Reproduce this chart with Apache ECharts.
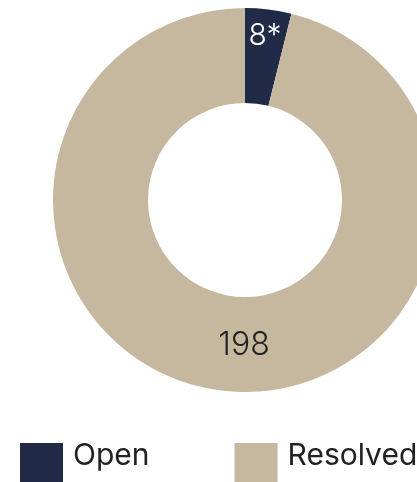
<!DOCTYPE html>
<html><head><meta charset="utf-8">
<script src="https://cdn.jsdelivr.net/npm/echarts@6/dist/echarts.min.js"></script>
<style>html,body{margin:0;padding:0;background:#fff}#c{width:417px;height:482px}</style>
</head><body><div id="c"></div>
<script>
const categories = ["Open", "Resolved"];
const values = [8, 198];
const labels = ["8*", "198"];
const colors = ["#212a47", "#c6b89f"];
const labelColors = ["#ffffff", "#222222"];
const labelOffsets = [[2, -18], [17, -1]];
const labelSizes = [30, 32];

const chart = echarts.init(document.getElementById('c'));
chart.setOption({
  animation: false,
  legend: {
    left: 20, top: 428, width: 800, padding: 0,
    icon: 'path://M0,0L0.001,0L0.001,0.001ZM0,15L43,15L43,55L0,55Z',
    itemWidth: 43, itemHeight: 55, itemGap: 85,
    textStyle: { fontFamily: 'Inter', fontSize: 30, color: '#222', padding: [0, 0, 0, 5] },
    data: categories
  },
  series: [{
    type: 'pie',
    center: [245, 200], radius: [97, 192],
    startAngle: 90, clockwise: true,
    avoidLabelOverlap: false,
    label: { show: true, position: 'inside', fontFamily: 'Inter', fontWeight: 300 },
    labelLine: { show: false },
    emphasis: { disabled: true },
    data: categories.map((n, i) => ({
      name: n, value: values[i],
      itemStyle: { color: colors[i] },
      label: { formatter: labels[i], color: labelColors[i], offset: labelOffsets[i], fontSize: labelSizes[i] }
    }))
  }]
});
</script></body></html>
